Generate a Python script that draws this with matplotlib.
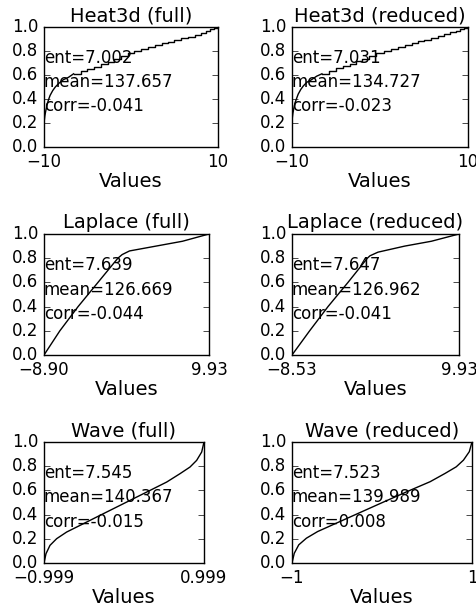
import matplotlib
matplotlib.use('Agg')
import matplotlib.pyplot as plt

# curvas de distribucion acumulada de cada conjunto
heat_full_x = [-10, -9.9, -9.8, -9.65, -9.5, -9.3, -9.0, -8.7, -8.3, -7.8, -7.2, -6.6, -5.8, -5.0,
               -4.2, -3.4, -2.7, -2.0, -1.2, -0.4, 0.4, 1.2, 2.0, 2.8, 3.6, 4.3, 5.0, 5.8, 6.6,
               7.3, 8.0, 8.6, 9.1, 9.5, 10]
heat_full_y = [0.20, 0.26, 0.30, 0.35, 0.39, 0.43, 0.47, 0.50, 0.53, 0.56, 0.58, 0.61, 0.63, 0.65,
               0.67, 0.69, 0.71, 0.73, 0.755, 0.78, 0.80, 0.82, 0.835, 0.85, 0.865, 0.875, 0.89,
               0.905, 0.92, 0.935, 0.95, 0.965, 0.98, 0.995, 1.0]

heat_red_x = [-10, -9.9, -9.8, -9.65, -9.5, -9.3, -9.0, -8.7, -8.3, -7.8, -7.2, -6.6, -5.8, -5.0,
              -4.2, -3.4, -2.7, -2.0, -1.2, -0.4, 0.4, 1.2, 2.0, 2.8, 3.6, 4.3, 5.0, 5.8, 6.6,
              7.3, 8.0, 8.6, 9.1, 9.5, 10]
heat_red_y = [0.22, 0.28, 0.32, 0.37, 0.40, 0.44, 0.48, 0.51, 0.54, 0.56, 0.59, 0.61, 0.63, 0.655,
              0.675, 0.695, 0.715, 0.735, 0.76, 0.78, 0.80, 0.82, 0.835, 0.85, 0.865, 0.88, 0.895,
              0.91, 0.925, 0.94, 0.955, 0.97, 0.985, 0.995, 1.0]

lap_full_x = [-8.90, -7.09, -5.01, -2.74, -0.47, 0.02, 0.86, 3.88, 6.90, 9.93]
lap_full_y = [0.0, 0.20, 0.40, 0.60, 0.80, 0.83, 0.86, 0.90, 0.94, 1.0]

lap_red_x = [-8.53, -6.58, -4.55, -2.34, -0.20, 0.09, 0.98, 3.93, 6.87, 9.93]
lap_red_y = [0.0, 0.20, 0.40, 0.60, 0.80, 0.82, 0.85, 0.90, 0.94, 1.0]

wave_full_x = [-0.999, -0.974, -0.924, -0.841, -0.716, -0.549, -0.341, -0.008, 0.325, 0.533,
               0.699, 0.824, 0.907, 0.970, 0.999]
wave_full_y = [0.0, 0.077, 0.146, 0.201, 0.256, 0.311, 0.38, 0.49, 0.60, 0.669, 0.738, 0.793,
               0.848, 0.917, 1.0]

wave_red_x = [-1.0, -0.975, -0.925, -0.84, -0.715, -0.55, -0.34, -0.01, 0.325, 0.535, 0.70,
              0.825, 0.905, 0.97, 1.0]
wave_red_y = [0.0, 0.08, 0.15, 0.205, 0.26, 0.315, 0.385, 0.495, 0.605, 0.672, 0.74, 0.795,
              0.85, 0.92, 1.0]

titles = ['Heat3d (full)', 'Heat3d (reduced)', 'Laplace (full)', 'Laplace (reduced)',
          'Wave (full)', 'Wave (reduced)']
x_ticklabels = [['-10', '10'], ['-10', '10'], ['-8.90', '9.93'], ['-8.53', '9.93'],
                ['-0.999', '0.999'], ['-1', '1']]
ents = ['7.002', '7.031', '7.639', '7.647', '7.545', '7.523']
means = ['137.657', '134.727', '126.669', '126.962', '140.367', '139.989']
corrs = ['-0.041', '-0.023', '-0.044', '-0.041', '-0.015', '0.008']

curves = [(heat_full_x, heat_full_y), (heat_red_x, heat_red_y),
          (lap_full_x, lap_full_y), (lap_red_x, lap_red_y),
          (wave_full_x, wave_full_y), (wave_red_x, wave_red_y)]

# posiciones de los ejes en pixeles (izq, arriba, der, abajo)
W, H = 477, 608
boxes = [(44, 27, 218, 147), (292, 27, 468, 147),
         (44, 234, 209, 355), (292, 234, 459, 355),
         (44, 442, 204, 563), (292, 442, 472, 563)]

plt.style.use('classic')
plt.rcParams['figure.facecolor'] = 'white'
plt.rcParams['savefig.facecolor'] = 'white'
plt.rcParams['font.size'] = 12

fig = plt.figure(figsize=(W / 100, H / 100), dpi=100)

for i in range(6):
    l, t, r, b = boxes[i]
    ax = fig.add_axes([l / W, 1 - b / H, (r - l) / W, (b - t) / H])
    xs, ys = curves[i]
    if i < 2:
        # tramo inicial suave y escalones en la parte alta
        k = 11
        ax.plot(xs[:k + 1], ys[:k + 1], color='black', linewidth=1.0)
        ax.plot(xs[k:], ys[k:], color='black', linewidth=1.0, drawstyle='steps-post')
    else:
        ax.plot(xs, ys, color='black', linewidth=1.0)
    lo, hi = float(x_ticklabels[i][0]), float(x_ticklabels[i][1])
    ax.set_xlim(lo, hi)
    ax.set_ylim(0, 1)
    ax.set_xticks([lo, hi])
    ax.set_xticklabels([s.replace('-', '\u2212') for s in x_ticklabels[i]])
    ax.set_yticks([0.0, 0.2, 0.4, 0.6, 0.8, 1.0])
    ax.set_xlabel('Values', fontsize=14, labelpad=1)
    ax.set_title(titles[i], fontsize=14, pad=4)
    ax.text(lo, 0.7, 'ent=' + ents[i], va='baseline', ha='left')
    ax.text(lo, 0.5, 'mean=' + means[i], va='baseline', ha='left')
    ax.text(lo, 0.3, 'corr=' + corrs[i], va='baseline', ha='left')

fig.savefig('out.png', dpi=100)
